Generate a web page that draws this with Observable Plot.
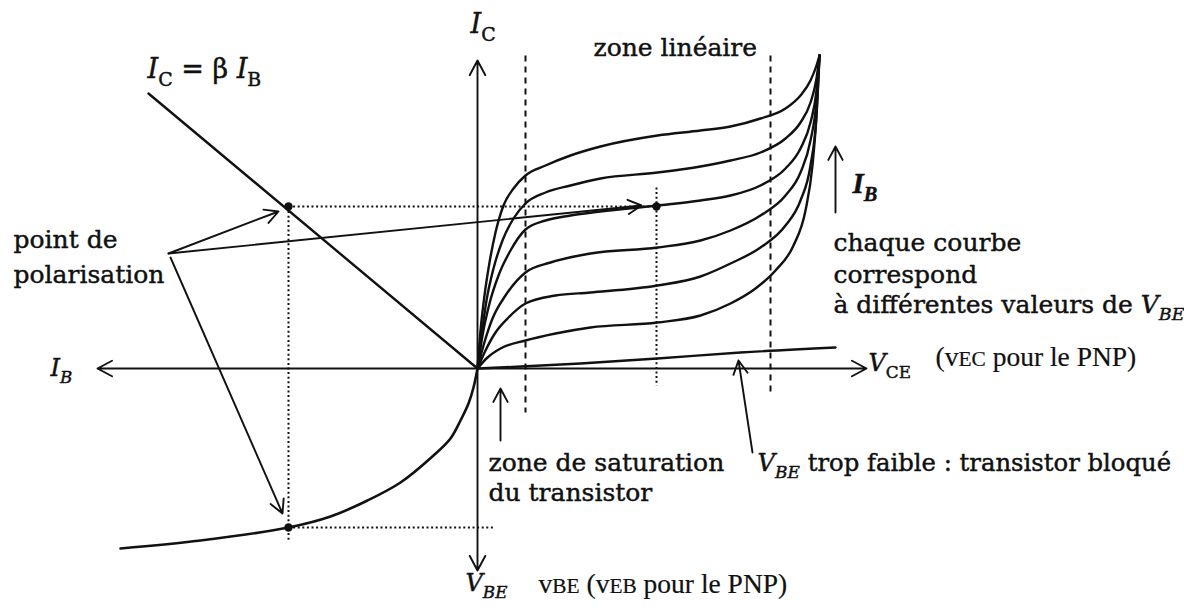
<!DOCTYPE html>
<html><head><meta charset="utf-8">
<script src="https://cdn.jsdelivr.net/npm/d3@7"></script>
<script src="https://cdn.jsdelivr.net/npm/@observablehq/plot@0.6"></script>
<style>
html,body{margin:0;padding:0;background:#fff;}
#chart{width:1184px;height:612px;overflow:hidden;}
</style></head><body><div id="chart"></div>
<script>
// Schematic units: x → V_CE (right) / I_B (left), y → I_C (up) / V_BE (down); origin at axis crossing.

// Output characteristics I_C(V_CE), one curve per base current
const outputCurve1 = [[0,0],[3,38],[7,73],[12,106],[18,136],[26,163],[36,180],[48,193],[68,203],[93,213],[123,222],[180,233],[223,238],[253,242],[283,250],[308,260],[323,273],[333,288],[339,303],[342,313]];
const outputCurve2 = [[0,0],[4,33],[9,68],[16,100],[25,128],[36,150],[48,165],[68,176],[93,183],[123,190],[180,196],[223,202],[253,208],[283,216],[308,230],[323,246],[333,266],[339,290],[342,313]];
const outputCurve3 = [[0,0],[5,33],[12,65],[21,93],[33,118],[48,139],[68,148],[93,153],[123,157],[180,163],[223,168],[253,173],[283,183],[308,200],[323,220],[333,246],[339,278],[342,313]];
const outputCurve4 = [[0,0],[6,23],[15,50],[28,73],[48,96],[73,106],[113,115],[180,121],[223,128],[253,138],[283,153],[308,173],[323,196],[333,228],[339,268],[342,313]];
const outputCurve5 = [[0,0],[8,18],[18,36],[31,51],[48,65],[78,73],[113,76],[180,83],[223,92],[253,105],[283,121],[308,143],[323,168],[333,203],[339,253],[342,313]];
const outputCurve6 = [[0,0],[10,11],[23,20],[48,28],[78,35],[113,41],[180,46],[223,53],[253,65],[278,80],[298,98],[316,123],[328,158],[335,203],[339,253],[342,313]];
// V_BE too low: blocked transistor
const cutoffCurve = [[0,0],[43,2],[103,5],[180,10],[263,16],[358,21]];
// Input characteristic I_B(V_BE)
const inputCurve = [[-357,-180],[-277,-172],[-189,-159],[-147,-148],[-110,-132],[-77,-114],[-44,-87],[-27,-70],[-17,-52],[-9,-35],[-4,-19],[0,0]];
// Transfer line I_C = beta I_B
const betaLine = [[-329,275],[0,0]];

// Operating point
const qIB = -189, qIC = 162, qVCE = 179, qVBE = -159;
const qPoints = [[qIB, qIC], [qVCE, qIC], [qIB, qVBE]];

// Axes (arrows from origin)
const axisEnds = [[389,0],[-380,0],[0,308],[0,-202]];
// Zone limits (dashed) : [x, yTop, yBottom]
const zoneLimits = [[48,313,-44],[293,313,-27]];
// Dotted guides [x1,y1,x2,y2]
const guides = [[qIB,qIC,qVCE,qIC],[qIB,qIC,qIB,-172],[qIB,qVBE,18,qVBE],[qVCE,181,qVCE,-17]];
// Pointer arrows [x1,y1,x2,y2]
const pointers = [
  [-309,115,-199,157],
  [-309,115,164,163],
  [-307,111,-195,-145],
  [23,-72,23,-20],
  [275,-84,261,8],
  [358,156,358,222]
];

// Labels ( /{..} italic, _{..} subscript, _/{..} italic subscript, ^{..} small capitals )
const annotationLabels = [
  {text:"zone linéaire", x:116, y:313},
  {text:"point de", x:-464, y:121},
  {text:"polarisation", x:-464, y:86},
  {text:"chaque courbe", x:356, y:118},
  {text:"correspond", x:356, y:86},
  {text:"à différentes valeurs de /{V}_/{BE}", x:356, y:56},
  {text:"zone de saturation", x:11, y:-102},
  {text:"du transistor", x:11, y:-132}
];
const blockedLabel = [
  {text:"/{V}_/{BE} trop faible : transistor bloqué", x:280, y:-102}
];
const mathLabelsLarge = [
  {text:"/{I}_{C} = β /{I}_{B}", x:-330, y:291},
  {text:"/{I}_{C}", x:-7, y:336}
];
const mathLabelsAxis = [
  {text:"/{I}_/{B}", x:-427, y:-7},
  {text:"/{V}_{CE}", x:391, y:-2},
  {text:"/{V}_/{BE}", x:-12, y:-222}
];
const pnpLabels = [
  {text:"(v^{EC} pour le PNP)", x:458, y:3},
  {text:"v^{BE} (v^{EB} pour le PNP)", x:61, y:-224}
];
const ibLabel = [{text:"I_{B}", x:375, y:176}];

const outputCurves = [outputCurve1, outputCurve2, outputCurve3, outputCurve4, outputCurve5, outputCurve6];
const outputRows = outputCurves.flatMap((c, k) => c.map(([x, y]) => ({x, y, k})));
const INK = "#111";
const SERIF = "DejaVu Serif, serif";
const TIMES = "Liberation Serif, Times New Roman, serif";

const txt = (data, opts) => Plot.text(data, {x:"x", y:"y", text:"text", textAnchor:"start", lineAnchor:"bottom", fill:INK, stroke:INK, strokeWidth:0.45, ...opts});

const plot = Plot.plot({
  width: 1184, height: 612,
  margin: 0,
  style: {background: "#fff"},
  x: {type: "linear", domain: [-477, 707], range: [0, 1184], axis: null},
  y: {type: "linear", domain: [-244, 368], range: [612, 0], axis: null},
  marks: [
    Plot.arrow(axisEnds, {x1: () => 0, y1: () => 0, x2: d => d[0], y2: d => d[1], stroke: INK, strokeWidth: 1.9, headLength: 13, headAngle: 56}),
    Plot.link(zoneLimits, {x1: d => d[0], x2: d => d[0], y1: d => d[1], y2: d => d[2], stroke: INK, strokeWidth: 2, strokeDasharray: "6,5"}),
    Plot.link(guides, {x1: d => d[0], y1: d => d[1], x2: d => d[2], y2: d => d[3], stroke: INK, strokeWidth: 2, strokeDasharray: "2,2.6"}),
    Plot.line(outputRows, {x: "x", y: "y", z: "k", curve: "monotone-x", stroke: INK, strokeWidth: 2.4}),
    Plot.line(cutoffCurve, {curve: "monotone-x", stroke: INK, strokeWidth: 2.4}),
    Plot.line(inputCurve, {curve: "catmull-rom", stroke: INK, strokeWidth: 2.6}),
    Plot.line(betaLine, {stroke: INK, strokeWidth: 2.4}),
    Plot.dot(qPoints, {r: 4.2, fill: INK, stroke: "none"}),
    Plot.arrow(pointers, {x1: d => d[0], y1: d => d[1], x2: d => d[2], y2: d => d[3], stroke: INK, strokeWidth: 1.9, headLength: 12, headAngle: 56}),
    txt(annotationLabels, {fontFamily: SERIF, fontSize: 25}),
    txt(blockedLabel, {fontFamily: SERIF, fontSize: 24.3}),
    txt(mathLabelsLarge, {fontFamily: SERIF, fontSize: 27}),
    txt(mathLabelsAxis, {fontFamily: SERIF, fontSize: 24}),
    txt(pnpLabels, {fontFamily: TIMES, fontSize: 27.5, strokeWidth: 0.2}),
    txt(ibLabel, {fontFamily: TIMES, fontSize: 29, fontWeight: "bold", fontStyle: "italic"})
  ]
});
document.getElementById("chart").appendChild(plot);

// Turn the tiny markup into tspans (subscripts, italics, small capitals)
(function richify(svg) {
  const NS = "http://www.w3.org/2000/svg";
  const re = /(_\/\{|_\{|\/\{|\^\{)([^}]*)\}/g;
  for (const t of svg.querySelectorAll("text")) {
    const s = t.textContent;
    if (!/(_\/\{|_\{|\/\{|\^\{)/.test(s)) continue;
    const fs = parseFloat(getComputedStyle(t).fontSize) || 20;
    const shift = 0.3 * fs;
    t.textContent = "";
    let last = 0, lowered = false, m;
    const add = (str, kind) => {
      if (!str) return;
      const ts = document.createElementNS(NS, "tspan");
      ts.textContent = str;
      if (kind === "sub" || kind === "isub") {
        ts.setAttribute("font-size", (0.7 * fs).toFixed(1));
        if (!lowered) { ts.setAttribute("dy", shift.toFixed(1)); lowered = true; }
        if (kind === "isub") ts.setAttribute("font-style", "italic");
      } else {
        if (lowered) { ts.setAttribute("dy", (-shift).toFixed(1)); lowered = false; }
        if (kind === "it") ts.setAttribute("font-style", "italic");
        if (kind === "sc") ts.setAttribute("font-size", (0.78 * fs).toFixed(1));
      }
      t.appendChild(ts);
    };
    while ((m = re.exec(s))) {
      add(s.slice(last, m.index), "plain");
      const kind = m[1] === "_/{" ? "isub" : m[1] === "_{" ? "sub" : m[1] === "/{" ? "it" : "sc";
      add(m[2], kind);
      last = re.lastIndex;
    }
    add(s.slice(last), "plain");
  }
})(plot);
</script>
</body></html>
